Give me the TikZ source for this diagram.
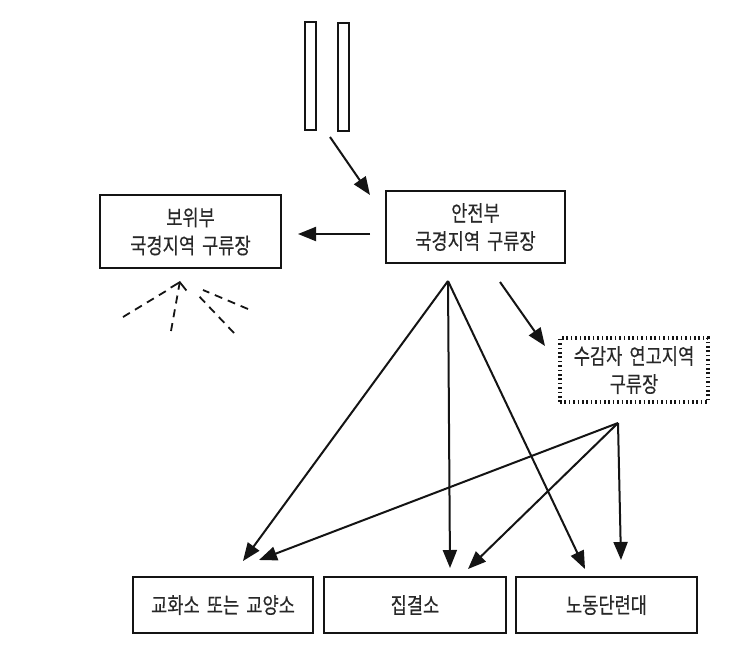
\documentclass[tikz,border=0pt]{standalone}
\usepackage{fontspec}
\setmainfont{Noto Sans CJK KR}[FakeStretch=0.8,FakeBold=0.3,WordSpace=1.8]
\usetikzlibrary{arrows.meta}
\definecolor{ink}{RGB}{20,20,20}
\definecolor{txt}{RGB}{40,40,40}
\begin{document}
\begin{tikzpicture}[x=1pt,y=-1pt,
  box/.style={draw=ink, line width=2pt, inner sep=0pt, align=center,
    text=txt, font=\fontsize{22}{28}\selectfont},
  dotbox/.style={draw=ink, line width=4.5pt, dash pattern=on 1.6pt off 2.8pt,
    inner sep=0pt, align=center, text=txt, font=\fontsize{22}{28}\selectfont},
  bar/.style={draw=ink, line width=2pt, inner sep=0pt, minimum width=11pt, minimum height=108pt},
  arr/.style={draw=ink, line width=2pt, -{Triangle[length=18pt,width=14pt]}},
  ray/.style={draw=ink, line width=1.8pt, dash pattern=on 8pt off 6pt},
]
\useasboundingbox (0,0) rectangle (733,662);
\fill[white] (0,0) rectangle (733,662);

% top bars
\node[bar] (bar1) at (310.5,76) {};
\node[bar] (bar2) at (343,76.5) {};

% boxes
\node[box, minimum width=181pt, minimum height=73pt] (bowi) at (190.5,231.5) {보위부\\국경지역 구류장};
\node[box, minimum width=179pt, minimum height=72pt] (anjeon) at (475.5,227) {안전부\\국경지역 구류장};
\node[dotbox, minimum width=148pt, minimum height=64pt] (sugam) at (634,370) {수감자 연고지역\\구류장};
\node[box, minimum width=180pt, minimum height=56pt] (gyohwa) at (223,605) {교화소 또는 교양소};
\node[box, minimum width=182pt, minimum height=56pt] (jipgyeol) at (415,605) {집결소};
\node[box, minimum width=181pt, minimum height=56pt] (nodong) at (606.5,605) {노동단련대};

% connector points
\coordinate (barsend) at (330,137);
\coordinate (anjeonTip) at (370,195);
\coordinate (anjeonL) at (370,234);
\coordinate (bowiR) at (298,234);
\coordinate (apexA) at (448,281);
\coordinate (apexB) at (618,423);
\coordinate (anjeonR) at (500,282);
\coordinate (sugamTip) at (545,346);
\coordinate (gyA) at (243,561);
\coordinate (gyB) at (259,560);
\coordinate (jgA) at (450,568);
\coordinate (jgB) at (468,569);
\coordinate (ndA) at (585,569);
\coordinate (ndB) at (621,560);

\draw[arr] (barsend) -- (anjeonTip);
\draw[arr] (anjeonL) -- (bowiR);
\draw[arr] (anjeonR) -- (sugamTip);
\draw[arr] (apexA) -- (gyA);
\draw[arr] (apexA) -- (jgA);
\draw[arr] (apexA) -- (ndA);
\draw[arr] (apexB) -- (gyB);
\draw[arr] (apexB) -- (jgB);
\draw[arr] (apexB) -- (ndB);

% dashed rays below 보위부
\coordinate (rayApex) at (180,281);
\coordinate (r1a) at (123,317);
\coordinate (r1b) at (166,291);
\coordinate (r2a) at (171,331);
\coordinate (r3a) at (234,333);
\coordinate (r3b) at (196,293);
\coordinate (r4a) at (248,309);
\coordinate (r4b) at (203,290);
\draw[ray] (r1a) -- (r1b);
\draw[ray, -{Straight Barb[length=7pt,width=16pt,line width=1.8pt]}] (r2a) -- (rayApex);
\draw[ray] (r3a) -- (r3b);
\draw[ray] (r4a) -- (r4b);
\end{tikzpicture}
\end{document}
